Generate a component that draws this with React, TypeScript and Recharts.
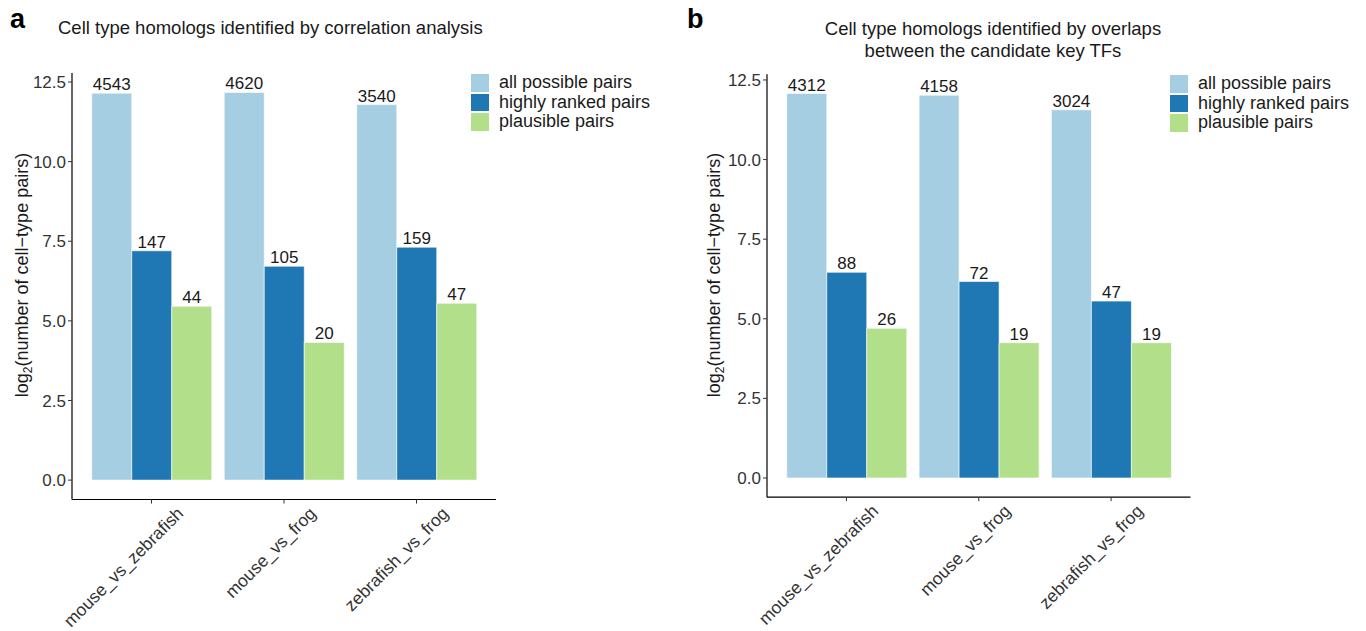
import React from 'react';
import { BarChart, Bar, XAxis, YAxis, LabelList, Legend } from 'recharts';

const categories = ['mouse_vs_zebrafish', 'mouse_vs_frog', 'zebrafish_vs_frog'];
const seriesNames = ['all possible pairs', 'highly ranked pairs', 'plausible pairs'];
const seriesColors = ['#A6CEE3', '#1F78B4', '#B2DF8A'];

// panel a: correlation analysis (raw counts)
const corrAll = [4543, 4620, 3540];
const corrHigh = [147, 105, 159];
const corrPlaus = [44, 20, 47];

// panel b: overlaps between candidate key TFs (raw counts)
const tfAll = [4312, 4158, 3024];
const tfHigh = [88, 72, 47];
const tfPlaus = [26, 19, 19];

const yTicks = [0, 2.5, 5, 7.5, 10, 12.5];

const titleA = ['Cell type homologs identified by correlation analysis'];
const titleB = ['Cell type homologs identified by overlaps', 'between the candidate key TFs'];

const FONT = '"Liberation Sans", Arial, Helvetica, sans-serif';

function buildData(all: number[], high: number[], plaus: number[]) {
  return categories.map((c, i) => ({
    cat: c,
    all: Math.log2(all[i]),
    allN: all[i],
    high: Math.log2(high[i]),
    highN: high[i],
    plaus: Math.log2(plaus[i]),
    plausN: plaus[i],
  }));
}

const dataA = buildData(corrAll, corrHigh, corrPlaus);
const dataB = buildData(tfAll, tfHigh, tfPlaus);

const XTick = (props: any) => {
  const { x, y, payload } = props;
  const ax = x + 33;
  const ay = y + 9;
  return (
    <text
      x={ax}
      y={ay}
      textAnchor="end"
      transform={`rotate(-45, ${ax}, ${ay})`}
      fontSize={17.5}
      fontFamily={FONT}
      fill="#333333"
    >
      {payload.value}
    </text>
  );
};

const makeLegend = () => () => (
  <div style={{ fontFamily: FONT, fontSize: 18, color: '#1a1a1a' }}>
    {seriesNames.map((n, i) => (
      <div key={n} style={{ display: 'flex', alignItems: 'center', height: 19.5 }}>
        <div
          style={{
            width: 20,
            height: 19.5,
            background: seriesColors[i],
            boxSizing: 'border-box',
            border: '1px solid #ffffff',
          }}
        />
        <span style={{ marginLeft: 9, lineHeight: '19.5px', whiteSpace: 'nowrap' }}>{n}</span>
      </div>
    ))}
  </div>
);

type PanelProps = {
  data: any[];
  left: number;
  yAxisWidth: number;
  top: number;
  bottom: number;
  right: number;
  legendLeft: number;
  legendTop: number;
};

const Panel = ({ data, left, yAxisWidth, top, bottom, right, legendLeft, legendTop }: PanelProps) => {
  const maxV = Math.max(...data.map((d) => Math.max(d.all, d.high, d.plaus)));
  const domain = [-0.05 * maxV, 1.05 * maxV];
  const keys = ['all', 'high', 'plaus'];
  return (
    <div style={{ position: 'absolute', left, top: 0 }}>
      <BarChart
        width={683}
        height={631}
        data={data}
        margin={{ top, right, bottom, left: 0 }}
        barCategoryGap={6.5}
        barGap={0}
      >
        <XAxis
          dataKey="cat"
          type="category"
          height={100}
          padding={{ left: 13.25, right: 13.25 }}
          tick={<XTick />}
          tickSize={4}
          axisLine={{ stroke: '#000000', strokeWidth: 1.2 }}
          tickLine={{ stroke: '#333333' }}
          interval={0}
        />
        <YAxis
          type="number"
          width={yAxisWidth}
          domain={domain}
          ticks={yTicks}
          allowDataOverflow
          tickFormatter={(v: number) => v.toFixed(1)}
          tickSize={4}
          tickMargin={2}
          tick={{ fontSize: 17, fill: '#333333', fontFamily: FONT }}
          axisLine={{ stroke: '#000000', strokeWidth: 1.2 }}
          tickLine={{ stroke: '#333333' }}
        />
        <Legend
          verticalAlign="middle"
          align="center"
          layout="vertical"
          content={makeLegend()}
          wrapperStyle={{ left: legendLeft, top: legendTop, width: 'auto', right: 'auto', bottom: 'auto' }}
        />
        {keys.map((k, i) => (
          <Bar
            key={k}
            dataKey={k}
            name={seriesNames[i]}
            fill={seriesColors[i]}
            stroke="#ffffff"
            strokeWidth={0.6}
            isAnimationActive={false}
          >
            <LabelList
              dataKey={`${k}N`}
              position="top"
              offset={3}
              fontSize={17}
              fill="#1a1a1a"
              fontFamily={FONT}
            />
          </Bar>
        ))}
      </BarChart>
    </div>
  );
};

const YLabel = ({ x, y }: { x: number; y: number }) => (
  <text
    x={x}
    y={y}
    transform={`rotate(-90, ${x}, ${y})`}
    textAnchor="middle"
    fontSize={18}
    fontFamily={FONT}
    fill="#1a1a1a"
  >
    log
    <tspan dy={4} fontSize={12}>2</tspan>
    <tspan dy={-4}>(number of cell−type pairs)</tspan>
  </text>
);

export default function App() {
  return (
    <div style={{ position: 'absolute', left: 0, top: 0, width: 1366, height: 631, background: '#ffffff', overflow: 'hidden' }}>
      <Panel data={dataA} left={0} yAxisWidth={72} top={73} bottom={31.5} right={187} legendLeft={470} legendTop={73} />
      <Panel data={dataB} left={683} yAxisWidth={84} top={74.3} bottom={33.8} right={175.5} legendLeft={486} legendTop={74} />
      <svg width={1366} height={631} style={{ position: 'absolute', left: 0, top: 0, pointerEvents: 'none' }}>
        <text x={10} y={28} fontSize={27} fontWeight="bold" fontFamily={FONT} fill="#000">a</text>
        <text x={687} y={28} fontSize={27} fontWeight="bold" fontFamily={FONT} fill="#000">b</text>
        <text x={58} y={34} fontSize={18.5} fontFamily={FONT} fill="#1a1a1a">{titleA[0]}</text>
        {titleB.map((t, i) => (
          <text key={t} x={993} y={35 + i * 22} textAnchor="middle" fontSize={18.5} fontFamily={FONT} fill="#1a1a1a">{t}</text>
        ))}
        <YLabel x={28} y={275} />
        <YLabel x={720} y={275} />
      </svg>
    </div>
  );
}
